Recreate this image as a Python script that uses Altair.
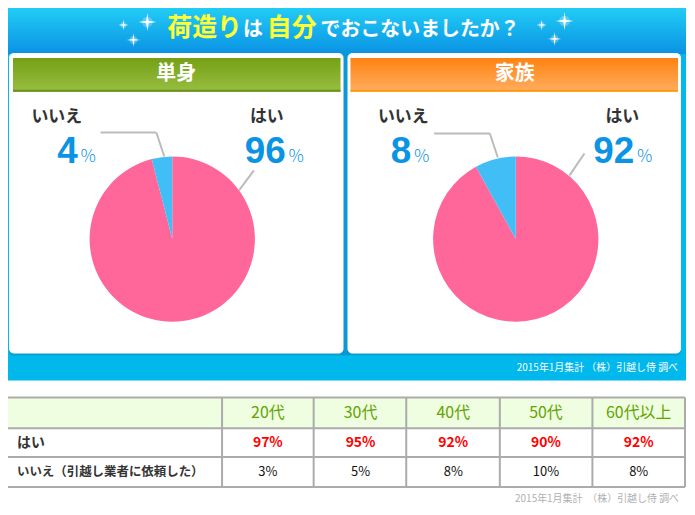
import altair as alt
import pandas as pd

# ---------------- data ----------------
title_parts = ["荷造り", "は", "自分", "でおこないましたか？"]
panel_titles = ["単身", "家族"]
answers = ["はい", "いいえ"]
yes_pct = [96, 92]
no_pct = [4, 8]
ages = ["20代", "30代", "40代", "50代", "60代以上"]
yes_by_age = [97, 95, 92, 90, 92]
no_by_age = [3, 5, 8, 10, 8]
row_labels = ["はい", "いいえ（引越し業者に依頼した）"]
source_note = "2015年1月集計 （株）引越し侍 調べ"
table_note = "2015年1月集計　（株）引越し侍 調べ"

# ---------------- style ----------------
W, H = 682, 499
JP = "Noto Sans CJK JP"
LAT = "Liberation Sans"
PINK = "#ff6699"
BLUE = "#40bef5"
NUM = "#0b93e4"

base = pd.DataFrame({"k": [0]})


def X(v):
    return v - 8


def Y(v):
    return v - 8


def YT(v):
    return v - 12


def grad(c0, c1):
    return {"gradient": "linear", "x1": 0, "y1": 0, "x2": 0, "y2": 1,
            "stops": [{"offset": 0, "color": c0}, {"offset": 1, "color": c1}]}


def rect(x0, y0, x1, y1, color, yf=Y, **kw):
    return alt.Chart(base).mark_rect(color=color, **kw).encode(
        x=alt.value(X(x0)), x2=alt.value(X(x1)), y=alt.value(yf(y0)), y2=alt.value(yf(y1)))


def rule(x0, y0, x1, y1, color, width=1, yf=Y):
    return alt.Chart(base).mark_rule(color=color, strokeWidth=width).encode(
        x=alt.value(X(x0)), x2=alt.value(X(x1)), y=alt.value(yf(y0)), y2=alt.value(yf(y1)))


def txt(s, x, y, size, color, weight="normal", align="center", baseline="middle",
        font=JP, yf=Y, **kw):
    return alt.Chart(base).mark_text(text=s, fontSize=size, color=color, fontWeight=weight,
                                     align=align, baseline=baseline, font=font, **kw).encode(
        x=alt.value(X(x)), y=alt.value(yf(y)))


STAR = "M0,-1L0.13,-0.13L1,0L0.13,0.13L0,1L-0.13,0.13L-1,0L-0.13,-0.13Z"


def star(x, y, size):
    glow = alt.Chart(base).mark_point(shape="circle", filled=True, color="white",
                                      opacity=0.25, size=size * 0.35).encode(
        x=alt.value(X(x)), y=alt.value(Y(y)))
    s = alt.Chart(base).mark_point(shape=STAR, filled=True, color="white",
                                   opacity=1, size=size).encode(
        x=alt.value(X(x)), y=alt.value(Y(y)))
    return [glow, s]


layers = []

# banner background
layers.append(rect(4, 6, 689, 381, "#00b8ec"))
layers.append(rect(4, 6, 689, 53, grad("#22cdf6", "#0a92e3")))
layers.append(rect(343, 50, 351, 356, "#0c98d6"))

# stars
for (sx, sy, ss) in [(124, 24, 110), (148, 21, 330), (134, 39, 180),
                     (544, 24, 110), (567, 20, 330), (557, 38, 180)]:
    layers += star(sx, sy, ss)

# title
title_x = [168, 244, 268, 322]
title_size = [25, 20, 25, 20]
title_col = ["#ffff33", "white", "#ffff33", "white"]
title_y = [27, 29, 27, 29]
for s, x, fs, c, ty in zip(title_parts, title_x, title_size, title_col, title_y):
    layers.append(txt(s, x, ty, fs, c, "bold", align="left"))

# panels
P = [
    dict(px0=9, px1=345, bar0=13, bar1=342, c0="#75a014", c1="#98be42", line="#6b8f1c",
         cx=173, lbl_no=57, lbl_yes=268, num_no=78, num_yes=287, tx=177,
         lead_no=[(101, 132), (157, 132), (165, 156)], lead_yes=[(255, 170), (240, 190)]),
    dict(px0=349, px1=684, bar0=352, bar1=681, c0="#ff8210", c1="#ffae60", line="#ff9a10",
         cx=518, lbl_no=405, lbl_yes=625, num_no=413, num_yes=637, tx=517,
         lead_no=[(436, 133), (492, 133), (500, 157)], lead_yes=[(587, 153), (572, 175)]),
]

for i, p in enumerate(P):
    layers.append(rect(p["px0"], 53, p["px1"], 356, "#0a8fc0", cornerRadius=5, opacity=0.6))
    layers.append(rect(p["px0"], 52, p["px1"], 354, "white", cornerRadius=5))
    layers.append(rect(p["bar0"], 57, p["bar1"], 91, grad(p["c0"], p["c1"])))
    layers.append(rect(p["bar0"], 89, p["bar1"], 91, p["line"]))
    layers.append(txt(panel_titles[i], p["tx"], 73, 20, "white", "bold"))

    df = pd.DataFrame({"answer": answers, "value": [yes_pct[i], no_pct[i]], "idx": [0, 1]})
    layers.append(alt.Chart(df).mark_arc(outerRadius=83).encode(
        theta=alt.Theta("value:Q", stack=True),
        color=alt.Color("answer:N", scale=alt.Scale(domain=answers, range=[PINK, BLUE]), legend=None),
        order=alt.Order("idx:Q"),
        x=alt.value(X(p["cx"])), y=alt.value(Y(239))))

    # leader lines
    ln = p["lead_no"]
    layers.append(rule(ln[0][0], ln[0][1], ln[1][0], ln[1][1], "#bbbbbb", 2))
    layers.append(rule(ln[1][0], ln[1][1], ln[2][0], ln[2][1], "#bbbbbb", 2))
    ly = p["lead_yes"]
    layers.append(rule(ly[0][0], ly[0][1], ly[1][0], ly[1][1], "#bbbbbb", 2))

    # labels
    layers.append(txt(answers[1], p["lbl_no"], 116, 17, "#333333", "bold"))
    layers.append(txt(answers[0], p["lbl_yes"], 116, 17, "#333333", "bold"))
    lab = pd.DataFrame({"yes": [yes_pct[i]], "no": [no_pct[i]]})
    for field, xr in [("no", p["num_no"]), ("yes", p["num_yes"])]:
        layers.append(alt.Chart(lab).mark_text(font=LAT, fontSize=37, fontWeight="bold", color=NUM,
                                               align="right", baseline="alphabetic").encode(
            text=alt.Text(f"{field}:Q"), x=alt.value(X(xr)), y=alt.value(Y(163))))
        layers.append(txt("％", xr + 2, 162, 17, NUM, 300, align="left", baseline="alphabetic"))

# source in banner
layers.append(txt(source_note, 681, 368, 10, "white", align="right"))

# ---------------- table ----------------
col_x = [4, 223, 315, 408, 502, 595, 688]
row_y = [402, 433, 462, 492]
layers.append(rect(4, 402, 688, 433, "#effde0", yf=YT))
for cx in col_x:
    layers.append(rule(cx, 402, cx, 492, "#ababab", 2, yf=YT))
for ry in row_y:
    layers.append(rule(4, ry, 688, ry, "#ababab", 2, yf=YT))

tdf = pd.DataFrame({"age": ages,
                    "yes": [f"{v}%" for v in yes_by_age],
                    "no": [f"{v}%" for v in no_by_age]})
xscale = alt.X("age:N", scale=alt.Scale(type="point", domain=ages, range=[X(269), X(641.5)], padding=0), axis=None)
layers.append(alt.Chart(tdf).mark_text(font=JP, fontSize=16, color="#62a400").encode(
    x=xscale, y=alt.value(YT(418)), text="age:N"))
layers.append(alt.Chart(tdf).mark_text(font=JP, fontSize=14, fontWeight="bold", color="#ff0000").encode(
    x=xscale, y=alt.value(YT(448)), text="yes:N"))
layers.append(alt.Chart(tdf).mark_text(font=JP, fontSize=13, color="#111111").encode(
    x=xscale, y=alt.value(YT(477)), text="no:N"))
layers.append(txt(row_labels[0], 17, 448, 14, "#333333", "bold", align="left", yf=YT))
layers.append(txt(row_labels[1], 17, 477, 12.5, "#333333", "bold", align="left", yf=YT))

layers.append(txt(table_note, 682, 504, 10, "#b0b0b0", align="right", yf=YT))

chart = alt.layer(*layers).properties(
    width=W, height=H, padding=0, background="white",
    autosize=alt.AutoSizeParams(type="none"),
).configure_view(stroke=None)

chart.save("out.html", embed_options={"renderer": "svg", "actions": False})
